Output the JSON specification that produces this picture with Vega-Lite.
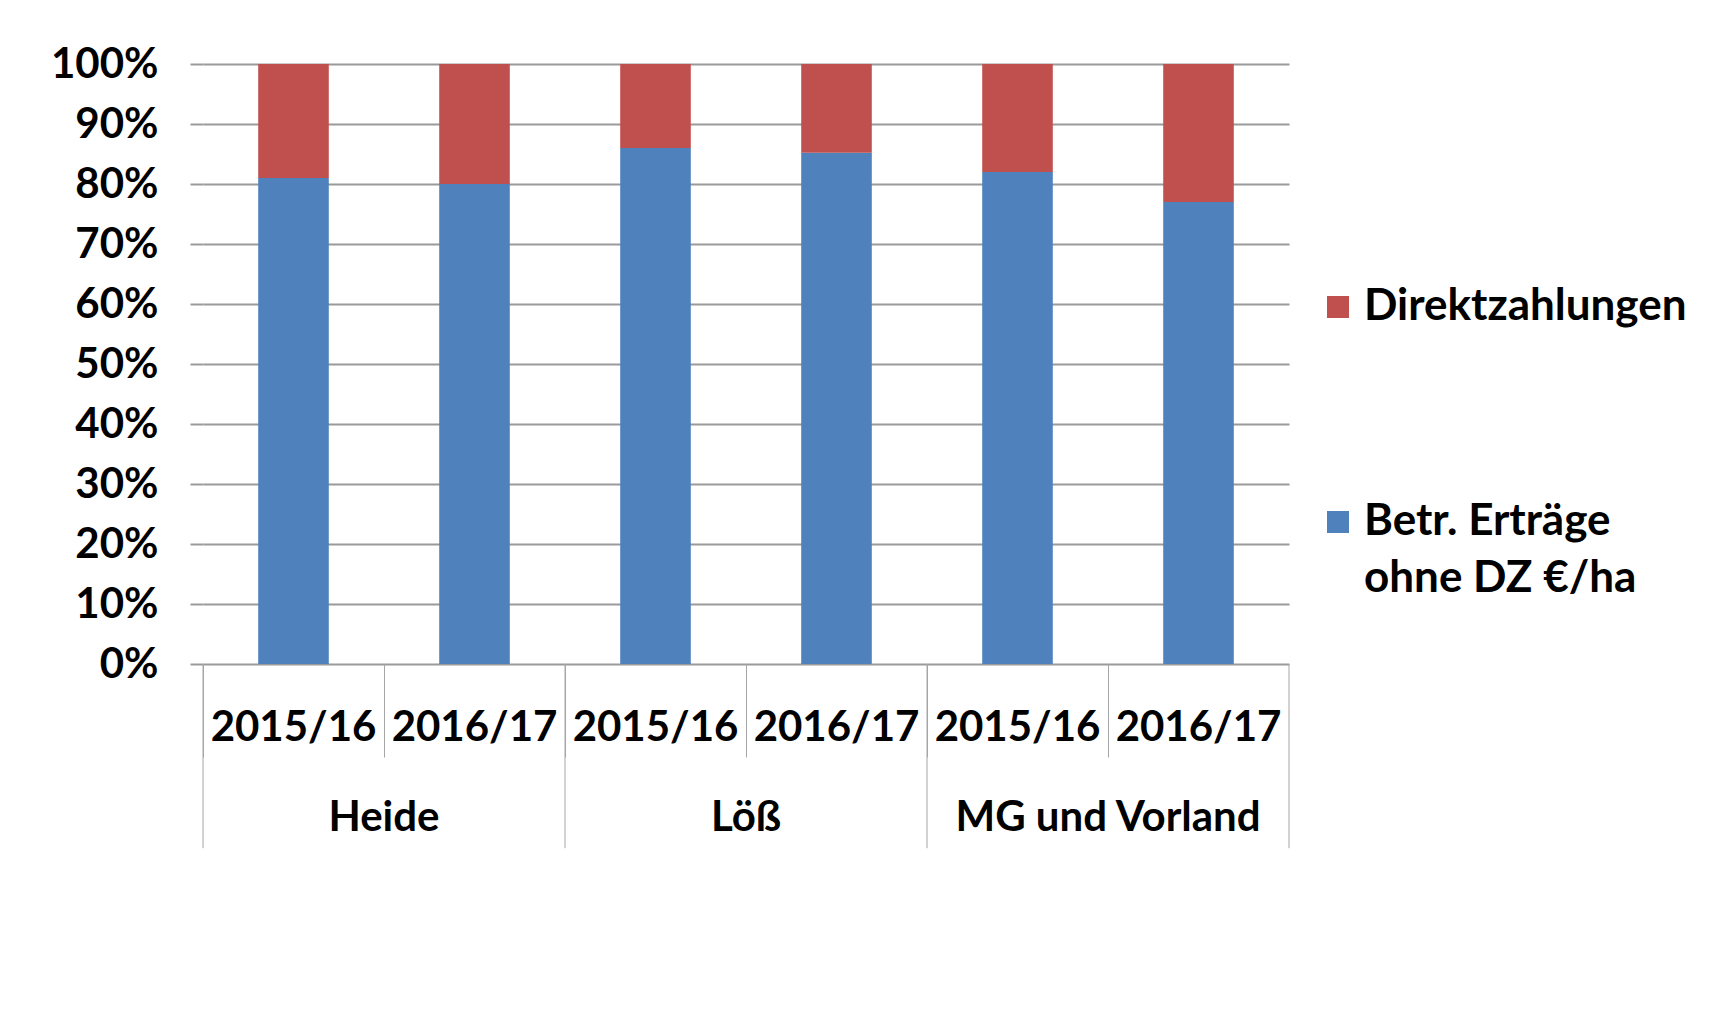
{
  "$schema": "https://vega.github.io/schema/vega-lite/v6.json",
  "width": 1086,
  "height": 600,
  "autosize": {"type": "none"},
  "padding": {"left": 203, "top": 64, "right": 428, "bottom": 363},
  "background": "white",
  "config": {
    "font": "Lato",
    "view": {"stroke": null},
    "style": {"guide-label": {"lineHeight": 57}}
  },
  "datasets": {
    "bars": [
      {"region": "Heide", "year": "2015/16", "key": "Heide|2015/16", "series": "Betr. Erträge ohne DZ €/ha", "value": 81.0},
      {"region": "Heide", "year": "2015/16", "key": "Heide|2015/16", "series": "Direktzahlungen", "value": 19.0},
      {"region": "Heide", "year": "2016/17", "key": "Heide|2016/17", "series": "Betr. Erträge ohne DZ €/ha", "value": 80.0},
      {"region": "Heide", "year": "2016/17", "key": "Heide|2016/17", "series": "Direktzahlungen", "value": 20.0},
      {"region": "Löß", "year": "2015/16", "key": "Löß|2015/16", "series": "Betr. Erträge ohne DZ €/ha", "value": 86.0},
      {"region": "Löß", "year": "2015/16", "key": "Löß|2015/16", "series": "Direktzahlungen", "value": 14.0},
      {"region": "Löß", "year": "2016/17", "key": "Löß|2016/17", "series": "Betr. Erträge ohne DZ €/ha", "value": 85.2},
      {"region": "Löß", "year": "2016/17", "key": "Löß|2016/17", "series": "Direktzahlungen", "value": 14.8},
      {"region": "MG und Vorland", "year": "2015/16", "key": "MG und Vorland|2015/16", "series": "Betr. Erträge ohne DZ €/ha", "value": 82.0},
      {"region": "MG und Vorland", "year": "2015/16", "key": "MG und Vorland|2015/16", "series": "Direktzahlungen", "value": 18.0},
      {"region": "MG und Vorland", "year": "2016/17", "key": "MG und Vorland|2016/17", "series": "Betr. Erträge ohne DZ €/ha", "value": 77.0},
      {"region": "MG und Vorland", "year": "2016/17", "key": "MG und Vorland|2016/17", "series": "Direktzahlungen", "value": 23.0}
    ],
    "regionStarts": [
      {"key": "Heide|2015/16"},
      {"key": "Löß|2015/16"},
      {"key": "MG und Vorland|2015/16"}
    ],
    "regionEnd": [
      {"key": "MG und Vorland|2016/17"}
    ],
    "regionMids": [
      {"key": "Heide|2016/17", "region": "Heide"},
      {"key": "Löß|2016/17", "region": "Löß"},
      {"key": "MG und Vorland|2016/17", "region": "MG und Vorland"}
    ]
  },
  "layer": [
    {
      "data": {"name": "bars"},
      "mark": {"type": "bar", "width": {"band": 0.39}},
      "encoding": {
        "x": {
          "field": "key",
          "type": "nominal",
          "sort": null,
          "scale": {
            "domain": ["Heide|2015/16", "Heide|2016/17", "Löß|2015/16", "Löß|2016/17", "MG und Vorland|2015/16", "MG und Vorland|2016/17"],
            "paddingInner": 0,
            "paddingOuter": 0
          },
          "axis": {
            "title": null,
            "domain": false,
            "grid": false,
            "bandPosition": 0,
            "ticks": true,
            "tickSize": 93,
            "tickColor": "#a6a6a6",
            "tickWidth": 1,
            "labelExpr": "split(datum.label, '|')[1]",
            "labelAngle": 0,
            "labelAlign": "center",
            "labelBaseline": "middle",
            "labelPadding": -30,
            "labelFont": "Lato",
            "labelFontSize": 42,
            "labelFontWeight": "bold",
            "labelColor": "#000000",
            "labelLimit": 400
          }
        },
        "y": {
          "field": "value",
          "type": "quantitative",
          "stack": "zero",
          "scale": {"domain": [0, 100], "nice": false},
          "axis": {
            "title": null,
            "values": [0, 10, 20, 30, 40, 50, 60, 70, 80, 90, 100],
            "labelExpr": "datum.value + '%'",
            "domain": false,
            "ticks": true,
            "tickSize": 13,
            "tickColor": "#9a9a9a",
            "tickWidth": 2,
            "grid": true,
            "gridColor": "#9a9a9a",
            "gridWidth": 2,
            "labelPadding": 32,
            "labelFont": "Lato",
            "labelFontSize": 42,
            "labelFontWeight": "bold",
            "labelColor": "#000000"
          }
        },
        "color": {
          "field": "series",
          "type": "nominal",
          "scale": {
            "domain": ["Direktzahlungen", "Betr. Erträge ohne DZ €/ha"],
            "range": ["#C0504D", "#4F81BD"]
          },
          "legend": {
            "orient": "none",
            "legendX": 1113,
            "legendY": 221,
            "title": null,
            "symbolType": "square",
            "symbolSize": 484,
            "symbolStrokeWidth": 0,
            "labelFont": "Lato",
            "labelFontSize": 44,
            "labelFontWeight": "bold",
            "labelColor": "#000000",
            "labelOffset": 4,
            "labelLimit": 500,
            "rowPadding": 171,
            "labelExpr": "datum.label == 'Direktzahlungen' ? datum.label : ['Betr. Erträge', 'ohne DZ €/ha']"
          }
        },
        "order": {"field": "series", "type": "nominal", "sort": "ascending"}
      }
    },
    {
      "data": {"name": "regionStarts"},
      "mark": {"type": "rule", "color": "#a6a6a6", "strokeWidth": 1},
      "encoding": {
        "x": {"field": "key", "type": "nominal", "bandPosition": 0},
        "y": {"datum": 0},
        "y2": {"datum": -30.7}
      }
    },
    {
      "data": {"name": "regionEnd"},
      "mark": {"type": "rule", "color": "#a6a6a6", "strokeWidth": 1},
      "encoding": {
        "x": {"field": "key", "type": "nominal", "bandPosition": 1},
        "y": {"datum": 0},
        "y2": {"datum": -30.7}
      }
    },
    {
      "data": {"name": "regionMids"},
      "mark": {"type": "text", "font": "Lato", "fontSize": 42, "fontWeight": "bold", "color": "#000000", "align": "center", "baseline": "middle"},
      "encoding": {
        "x": {"field": "key", "type": "nominal", "bandPosition": 0},
        "y": {"datum": -25.7},
        "text": {"field": "region"}
      }
    }
  ]
}
